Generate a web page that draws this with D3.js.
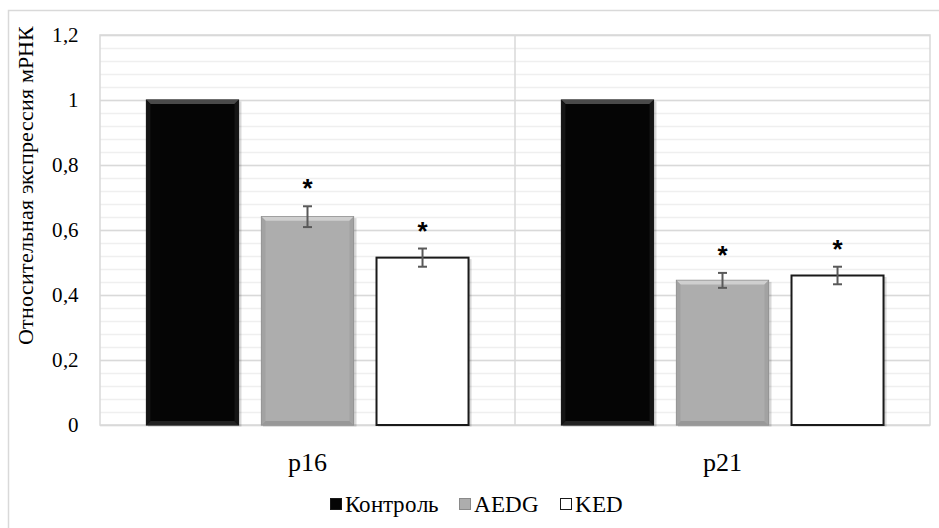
<!DOCTYPE html>
<head>
<meta charset="utf-8">
<script src="https://d3js.org/d3.v7.min.js"></script>
<style>
  @font-face { font-family: "ChartSerif"; src: local("Liberation Serif"), local("LiberationSerif"), local("Times New Roman"); }
  @font-face { font-family: "ChartSerif"; font-weight: bold; src: local("Liberation Serif Bold"), local("LiberationSerif-Bold"); }
</style>
</head>
<body style="margin:0">
<script>
// data
var genes = ["p16", "p21"];
var series = ["Контроль", "AEDG", "KED"];
var values = {
  "p16": [1, 0.641, 0.515],
  "p21": [1, 0.445, 0.460]
};
var errors = {
  "p16": [0, 0.032, 0.028],
  "p21": [0, 0.023, 0.027]
};
var stars = {
  "p16": [false, true, true],
  "p21": [false, true, true]
};
var yTicks = [0, 0.2, 0.4, 0.6, 0.8, 1, 1.2];

var W = 939, H = 528;
var plot = {left: 100, right: 930, top: 35, bottom: 425};
var serif = "ChartSerif, 'Times New Roman', 'Liberation Serif', serif";

var svg = d3.select("body").append("svg")
  .attr("width", W).attr("height", H);

// outer chart border
svg.append("rect")
  .attr("x", 8.5).attr("y", 10.5).attr("width", W + 10).attr("height", H + 10)
  .attr("fill", "none").attr("stroke", "#d9d9d9").attr("stroke-width", 1.5);

var x0 = d3.scaleBand().domain(genes).range([plot.left, plot.right]);
var x1 = d3.scaleBand().domain(series).range([0, x0.bandwidth()])
  .paddingInner(0.2).paddingOuter(0.404);
var y = d3.scaleLinear().domain([0, 1.2]).range([plot.bottom, plot.top]);

// minor gridlines
svg.append("g").selectAll("line")
  .data(d3.range(0, 1.2001, 0.04))
  .join("line")
    .attr("x1", plot.left).attr("x2", plot.right)
    .attr("y1", function(d) { return Math.round(y(d)) + 0.5; })
    .attr("y2", function(d) { return Math.round(y(d)) + 0.5; })
    .attr("stroke", "#efefef").attr("stroke-width", 1.5);

// major gridlines
svg.append("g").selectAll("line")
  .data(yTicks)
  .join("line")
    .attr("x1", plot.left).attr("x2", plot.right)
    .attr("y1", function(d) { return Math.round(y(d)) + 0.5; })
    .attr("y2", function(d) { return Math.round(y(d)) + 0.5; })
    .attr("stroke", "#d9d9d9").attr("stroke-width", 1.5);

// plot area frame + category separator
svg.append("rect")
  .attr("x", plot.left).attr("y", plot.top)
  .attr("width", plot.right - plot.left).attr("height", plot.bottom - plot.top)
  .attr("fill", "none").attr("stroke", "#d9d9d9").attr("stroke-width", 1.5);
svg.append("line")
  .attr("x1", x0("p21")).attr("x2", x0("p21"))
  .attr("y1", plot.top).attr("y2", plot.bottom)
  .attr("stroke", "#d9d9d9").attr("stroke-width", 1.5);

// y tick labels
svg.append("g").selectAll("text")
  .data(yTicks)
  .join("text")
    .attr("x", 79).attr("y", function(d) { return y(d) + 7; })
    .attr("text-anchor", "end")
    .attr("font-family", serif)
    .attr("font-size", 21)
    .text(function(d) { return String(d).replace(".", ","); });

// y axis title
svg.append("text")
  .attr("transform", "translate(33,185) rotate(-90)")
  .attr("text-anchor", "middle")
  .attr("font-family", serif)
  .attr("font-size", 22)
  .text("Относительная экспрессия мРНК");

// category labels
svg.append("g").selectAll("text")
  .data(genes)
  .join("text")
    .attr("x", function(d) { return x0(d) + x0.bandwidth() / 2; })
    .attr("y", 471)
    .attr("text-anchor", "middle")
    .attr("font-family", serif)
    .attr("font-size", 26)
    .text(function(d) { return d; });

var fills = ["#050505", "#adadad", "#ffffff"];
var strokes = ["#1a1a1a", "#8a8a8a", "#1a1a1a"];

var barData = [];
genes.forEach(function(g) {
  series.forEach(function(s, i) {
    barData.push({gene: g, s: s, i: i, v: values[g][i], e: errors[g][i], star: stars[g][i]});
  });
});

var bars = svg.append("g").selectAll("g")
  .data(barData)
  .join("g")
    .attr("transform", function(d) { return "translate(" + (x0(d.gene) + x1(d.s)) + ",0)"; });

var bw = x1.bandwidth();
// soft shadow
bars.append("rect")
  .attr("x", 1.5).attr("y", function(d) { return y(d.v) + 1.5; })
  .attr("width", bw + 1.5).attr("height", function(d) { return y(0) - y(d.v); })
  .attr("fill", "#000").attr("opacity", 0.15);
bars.append("rect")
  .attr("x", 0).attr("y", function(d) { return y(d.v); })
  .attr("width", bw).attr("height", function(d) { return y(0) - y(d.v); })
  .attr("fill", function(d) { return fills[d.i]; })
  .attr("stroke", function(d) { return strokes[d.i]; })
  .attr("stroke-width", function(d) { return d.i == 2 ? 2 : 1.2; });

// bevel strips on the filled bars
var bev = 4;
bars.filter(function(d) { return d.i < 2; }).append("path")
  .attr("d", function(d) {
    var t = y(d.v);
    return "M0," + t + "L" + bw + "," + t + "L" + (bw - bev) + "," + (t + bev) + "L" + bev + "," + (t + bev) + "Z";
  })
  .attr("fill", function(d) { return d.i == 0 ? "#4a4a4a" : "#cfcfcf"; });
bars.filter(function(d) { return d.i < 2; }).append("path")
  .attr("d", function(d) {
    var b = y(0);
    return "M0," + b + "L" + bw + "," + b + "L" + (bw - bev) + "," + (b - bev) + "L" + bev + "," + (b - bev) + "Z";
  })
  .attr("fill", function(d) { return d.i == 0 ? "#222" : "#989898"; });
bars.filter(function(d) { return d.i < 2; }).append("path")
  .attr("d", function(d) {
    var t = y(d.v), b = y(0);
    return "M0," + t + "L" + bev + "," + (t + bev) + "L" + bev + "," + (b - bev) + "L0," + b + "Z" +
      "M" + bw + "," + t + "L" + (bw - bev) + "," + (t + bev) + "L" + (bw - bev) + "," + (b - bev) + "L" + bw + "," + b + "Z";
  })
  .attr("fill", function(d) { return d.i == 0 ? "#151515" : "#a2a2a2"; });

// error bars
var eb = bars.filter(function(d) { return d.e > 0; });
eb.append("line")
  .attr("x1", bw / 2).attr("x2", bw / 2)
  .attr("y1", function(d) { return y(d.v + d.e); })
  .attr("y2", function(d) { return y(d.v - d.e); })
  .attr("stroke", "#595959").attr("stroke-width", 2);
eb.selectAll(".cap")
  .data(function(d) { return [d.v + d.e, d.v - d.e]; })
  .join("line")
    .attr("x1", bw / 2 - 4.5).attr("x2", bw / 2 + 4.5)
    .attr("y1", function(v) { return y(v); })
    .attr("y2", function(v) { return y(v); })
    .attr("stroke", "#595959").attr("stroke-width", 2);

// significance stars
bars.filter(function(d) { return d.star; }).append("text")
  .attr("x", bw / 2)
  .attr("y", function(d) { return y(d.v + d.e) - 24 + 15; })
  .attr("text-anchor", "middle")
  .attr("font-family", "'Liberation Sans', Arial, sans-serif")
  .attr("font-weight", "bold")
  .attr("font-size", 26)
  .text("*");

// legend
var legend = svg.append("g").attr("transform", "translate(0,512)");
var lx = 330;
series.forEach(function(s, i) {
  legend.append("rect")
    .attr("x", lx + 0.5).attr("y", -13.5).attr("width", 11).attr("height", 11)
    .attr("fill", fills[i])
    .attr("stroke", i == 1 ? "#8a8a8a" : "#1a1a1a").attr("stroke-width", 1);
  var t = legend.append("text")
    .attr("x", lx + 15).attr("y", 0)
    .attr("font-family", serif)
    .attr("font-size", 23)
    .text(s);
  lx += 15 + t.node().getComputedTextLength() + 21;
});
</script>
</body>
